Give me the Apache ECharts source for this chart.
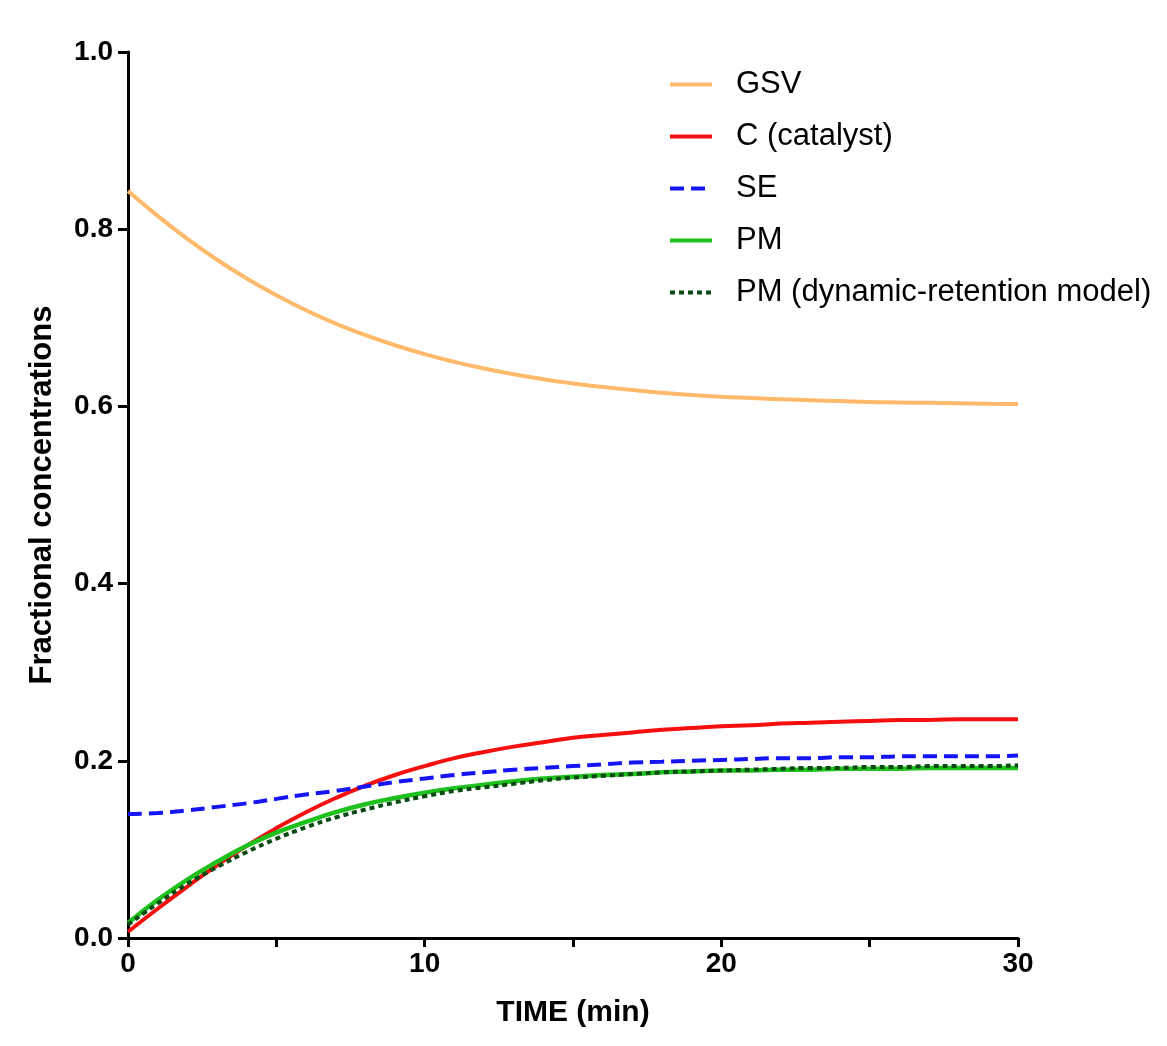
<!DOCTYPE html>
<html>
<head>
<meta charset="utf-8">
<script src="https://cdn.jsdelivr.net/npm/echarts@6/dist/echarts.min.js"></script>
<style>
html,body{margin:0;padding:0;background:#fff;}
#chart{width:1167px;height:1046px;}
</style>
</head>
<body>
<div id="chart"></div>
<script>
const time = [0,1,2,3,4,5,6,7,8,9,10,11,12,13,14,15,16,17,18,19,20,21,22,23,24,25,26,27,28,29,30];
const gsv = [0.843,0.815,0.789,0.7655,0.7445,0.7255,0.7085,0.6935,0.6805,0.669,0.659,0.6503,0.6428,0.6363,0.6307,0.6259,0.6218,0.6185,0.6155,0.613,0.611,0.6095,0.608,0.607,0.606,0.605,0.6045,0.604,0.6035,0.603,0.6027];
const catalyst = [0.007,0.033,0.058,0.082,0.104,0.124,0.142,0.158,0.172,0.184,0.194,0.203,0.210,0.216,0.221,0.226,0.229,0.232,0.235,0.237,0.239,0.240,0.242,0.243,0.244,0.245,0.246,0.246,0.247,0.247,0.247];
const se = [0.140,0.141,0.144,0.148,0.152,0.157,0.162,0.166,0.171,0.176,0.180,0.184,0.187,0.190,0.192,0.194,0.196,0.198,0.199,0.200,0.201,0.202,0.203,0.203,0.204,0.204,0.205,0.205,0.205,0.205,0.206];
const pm = [0.017,0.043,0.066,0.086,0.104,0.119,0.131,0.142,0.151,0.158,0.164,0.169,0.173,0.177,0.180,0.182,0.184,0.185,0.187,0.188,0.189,0.189,0.190,0.190,0.191,0.191,0.191,0.192,0.192,0.192,0.192];
const pmDyn = [0.015,0.039,0.061,0.080,0.097,0.112,0.125,0.136,0.145,0.153,0.160,0.166,0.170,0.174,0.178,0.181,0.183,0.185,0.187,0.188,0.189,0.190,0.191,0.192,0.192,0.193,0.193,0.194,0.194,0.194,0.195];
const seriesNames = ['GSV','C (catalyst)','SE','PM','PM (dynamic-retention model)'];

const pairs = arr => time.map((t,i)=>[t, arr[i]]);
const FONT = "'Liberation Sans', Arial, Helvetica, sans-serif";

const chart = echarts.init(document.getElementById('chart'), null, {renderer:'canvas'});
function mk(name, arr, color, type, width){
  return {
    name, type:'line', data: pairs(arr), smooth:true, showSymbol:false, symbol:'none',
    lineStyle:{color, width, type}, itemStyle:{color}, animation:false
  };
}
chart.setOption({
  animation:false,
  backgroundColor:'#ffffff',
  grid:{left:128, right:149, top:52, bottom:108, containLabel:false},
  legend:{
    orient:'vertical', left:663, top:64, itemWidth:42, itemHeight:14, itemGap:21,
    itemStyle:{opacity:0},
    lineStyle:{width:4},
    textStyle:{fontFamily:FONT, fontSize:31, color:'#000', lineHeight:30, padding:[0,0,0,19]},
    data: seriesNames
  },
  xAxis:{
    type:'value', min:0, max:30, interval:5,
    name:'TIME (min)', nameLocation:'middle', nameGap:60,
    nameTextStyle:{fontFamily:FONT, fontSize:30, fontWeight:'bold', color:'#000'},
    axisLine:{onZero:false, lineStyle:{color:'#000', width:3}},
    axisTick:{show:true, inside:false, length:9, lineStyle:{color:'#000', width:3}},
    axisLabel:{fontFamily:FONT, fontSize:28, fontWeight:'bold', color:'#000', margin:12,
      formatter: v => (v % 10 === 0 ? String(v) : '')},
    splitLine:{show:false}
  },
  yAxis:{
    type:'value', min:0, max:1, interval:0.2,
    name:'Fractional concentrations', nameLocation:'middle', nameGap:70, nameRotate:90,
    nameTextStyle:{fontFamily:FONT, fontSize:31, fontWeight:'bold', color:'#000'},
    axisLine:{show:true, onZero:false, lineStyle:{color:'#000', width:3}},
    axisTick:{show:true, inside:false, length:10, lineStyle:{color:'#000', width:3}},
    axisLabel:{fontFamily:FONT, fontSize:28, fontWeight:'bold', color:'#000', margin:15,
      formatter: v => v.toFixed(1)},
    splitLine:{show:false}
  },
  series:[
    mk(seriesNames[0], gsv, '#ffb96b', 'solid', 4),
    mk(seriesNames[1], catalyst, '#f50f0f', 'solid', 4),
    mk(seriesNames[2], se, '#1414f5', [14,7], 4),
    mk(seriesNames[3], pm, '#1ec11e', 'solid', 4.5),
    mk(seriesNames[4], pmDyn, '#0b4a12', [5,4], 4)
  ]
});
</script>
</body>
</html>
